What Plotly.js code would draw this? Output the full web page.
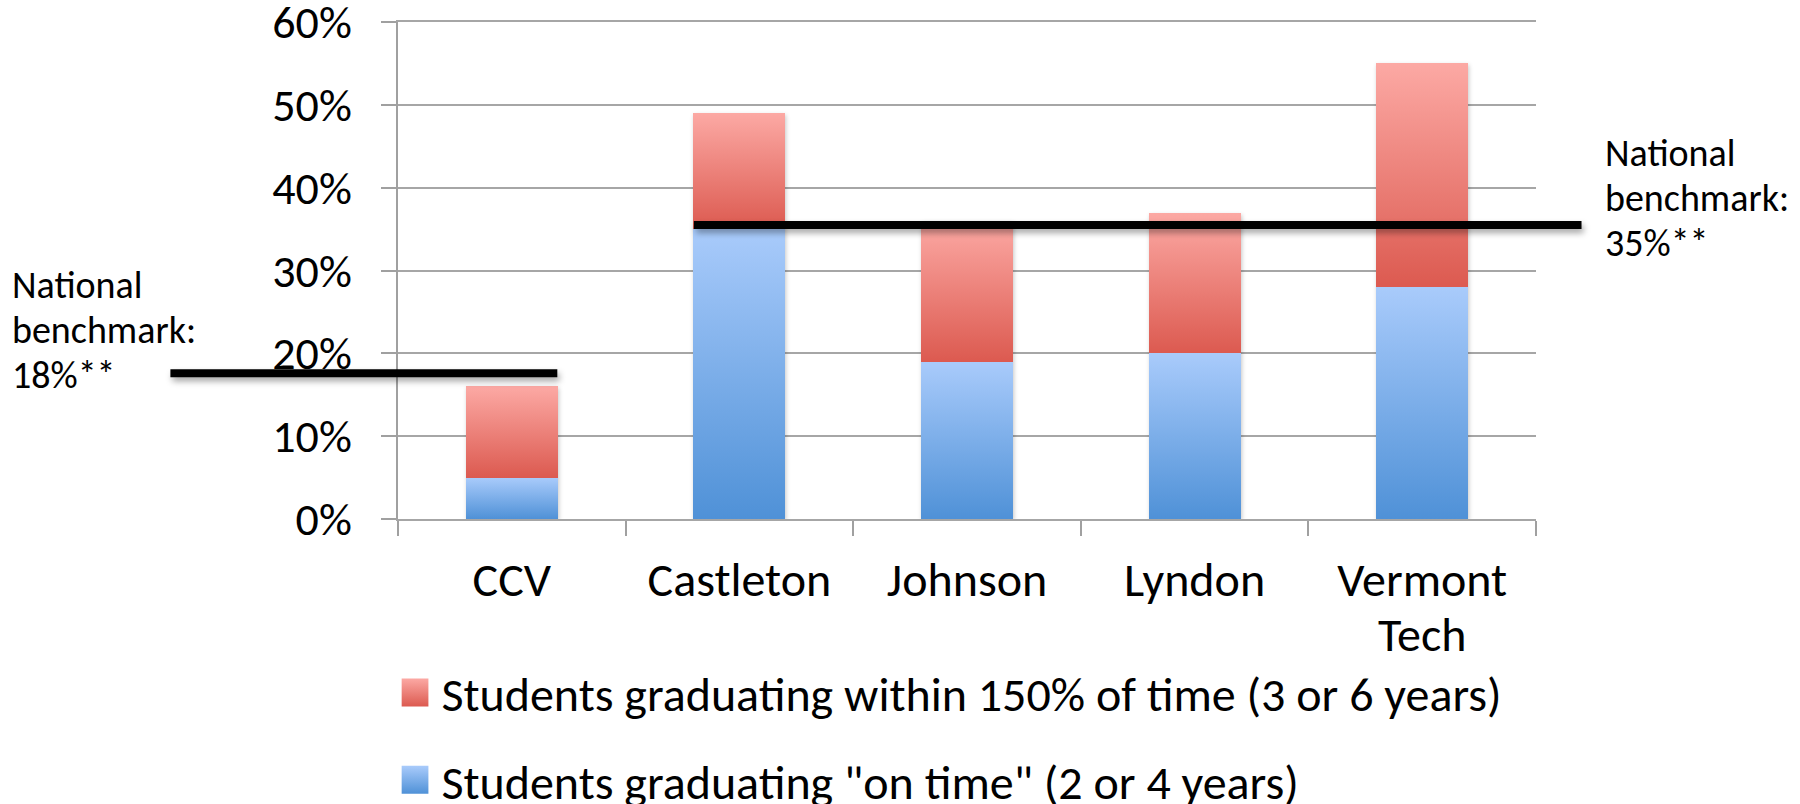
<!DOCTYPE html>
<html>
<head>
<meta charset="utf-8">
<script src="https://cdn.plot.ly/plotly-3.0.1.min.js"></script>
<style>
  html, body { margin: 0; padding: 0; background: #fff; }
  #chart { width: 1800px; height: 804px; }
  .barlayer { filter: drop-shadow(1px 2px 2px rgba(0,0,0,0.22)); }
  .shapelayer path { filter: drop-shadow(2px 4px 3px rgba(0,0,0,0.35)); }
</style>
</head>
<body>
<div id="chart"></div>
<script>
// ---- data ----
const colleges = ["CCV", "Castleton", "Johnson", "Lyndon", "Vermont<br>Tech"];
const onTime = [5, 35, 19, 20, 28];          // % graduating "on time"
const within150 = [11, 14, 17, 17, 27];      // additional % graduating within 150% of time
const seriesNames = [
  'Students graduating "on time" (2 or 4 years)',
  'Students graduating within 150% of time (3 or 6 years)'
];
const benchmarks = [17.6, 35.5];             // drawn benchmark line levels (%)
const benchmarkLabels = ["National<br>benchmark:<br>18%**", "National<br>benchmark:<br>35%**"];
const yTickVals = [0, 10, 20, 30, 40, 50, 60];
const yTickText = ["0%", "10%", "20%", "30%", "40%", "50%", "60%"];

const FONT = "Carlito, Lato, 'Open Sans', sans-serif";

const traces = [
  { type: "bar", name: seriesNames[0], x: colleges, y: onTime,
    marker: { color: "#7fb0ec" }, legendgroup: "b", legendrank: 2 },
  { type: "bar", name: seriesNames[1], x: colleges, y: within150,
    marker: { color: "#ec7d75" }, legendgroup: "a", legendrank: 1 }
];

const layout = {
  width: 1800, height: 804,
  margin: { l: 398, r: 264, t: 22, b: 285, autoexpand: false },
  paper_bgcolor: "#fff", plot_bgcolor: "#fff",
  barmode: "stack",
  bargap: 0.596,
  hovermode: false,
  font: { family: FONT, color: "#000", size: 46 },
  xaxis: {
    type: "category",
    tickson: "boundaries",
    ticks: "outside", ticklen: 15, tickwidth: 2, tickcolor: "#a0a0a0",
    showline: true, linecolor: "#a6a6a6", linewidth: 2, mirror: true,
    showgrid: false, zeroline: false,
    tickfont: { size: 48, family: FONT, color: "#000" },
    ticklabelstandoff: 17
  },
  yaxis: {
    range: [0, 60],
    tickvals: yTickVals, ticktext: yTickText,
    ticklabeloverflow: "allow",
    ticks: "outside", ticklen: 15, tickwidth: 2, tickcolor: "#a0a0a0",
    showline: true, linecolor: "#a0a0a0", linewidth: 2,
    showgrid: true, gridcolor: "#a6a6a6", gridwidth: 2,
    zeroline: false,
    tickfont: { size: 46, family: FONT, color: "#000" },
    ticklabelstandoff: 20
  },
  legend: {
    orientation: "v", traceorder: "grouped",
    x: 0.003, xanchor: "left", y: -0.273, yanchor: "top",
    font: { size: 48, family: FONT, color: "#000" },
    tracegroupgap: 22, bgcolor: "rgba(0,0,0,0)"
  },
  shapes: [
    { type: "line", xref: "paper", yref: "y", x0: -0.2, x1: 0.14,
      y0: benchmarks[0], y1: benchmarks[0], line: { color: "#000", width: 8 } },
    { type: "line", xref: "paper", yref: "y", x0: 0.26, x1: 1.04,
      y0: benchmarks[1], y1: benchmarks[1], line: { color: "#000", width: 8 } }
  ],
  annotations: [
    { text: benchmarkLabels[0], xref: "paper", yref: "paper", x: -0.341, y: 0.372,
      xanchor: "left", yanchor: "middle", align: "left", showarrow: false,
      font: { size: 38, family: FONT, color: "#000" } },
    { text: benchmarkLabels[1], xref: "paper", yref: "paper", x: 1.059, y: 0.637,
      xanchor: "left", yanchor: "middle", align: "left", showarrow: false,
      font: { size: 38, family: FONT, color: "#000" } }
  ]
};

// Plotly gives line i of a multi-line text dy = i*1.3em; use a tighter step
function tightenLines(container, em) {
  container.querySelectorAll("tspan.line").forEach(t => {
    const v = parseFloat(t.getAttribute("dy"));
    if (v > 0) {
      const idx = Math.round(v / 1.3);
      t.setAttribute("dy", (idx * em).toFixed(3) + "em");
    }
  });
}

function polish(gd) {
  const svg = gd.querySelector("svg.main-svg");
  const defs = svg.querySelector("defs");
  const NS = "http://www.w3.org/2000/svg";
  function grad(id, top, bottom) {
    const g = document.createElementNS(NS, "linearGradient");
    g.setAttribute("id", id);
    g.setAttribute("x1", "0"); g.setAttribute("y1", "0");
    g.setAttribute("x2", "0"); g.setAttribute("y2", "1");
    [[0, top], [1, bottom]].forEach(([o, c]) => {
      const s = document.createElementNS(NS, "stop");
      s.setAttribute("offset", o); s.setAttribute("stop-color", c);
      g.appendChild(s);
    });
    defs.appendChild(g);
  }
  grad("gradBlue", "#a9cbfb", "#4f91d7");
  grad("gradRed", "#fca9a4", "#dc5a50");
  const ids = ["url(#gradBlue)", "url(#gradRed)"];
  gd.querySelectorAll(".barlayer .trace").forEach((t, i) => {
    t.querySelectorAll("path").forEach(p => { p.style.fill = ids[i]; });
  });
  gd.querySelectorAll(".legend .traces").forEach(tr => {
    const txt = tr.querySelector(".legendtext").textContent;
    const idx = txt.indexOf("150%") >= 0 ? 1 : 0;
    tr.querySelectorAll(".legendpoints path").forEach(p => {
      p.setAttribute("d", "M7,14H-20V-14H7Z");
      p.style.fill = ids[idx];
      p.style.stroke = "none";
    });
  });
  gd.querySelectorAll(".xtick text").forEach(t => tightenLines(t, 1.15));
  gd.querySelectorAll(".annotation-text").forEach(t => tightenLines(t, 1.18));
}

Plotly.newPlot("chart", traces, layout, { displayModeBar: false, staticPlot: true })
  .then(polish);
</script>
</body>
</html>
